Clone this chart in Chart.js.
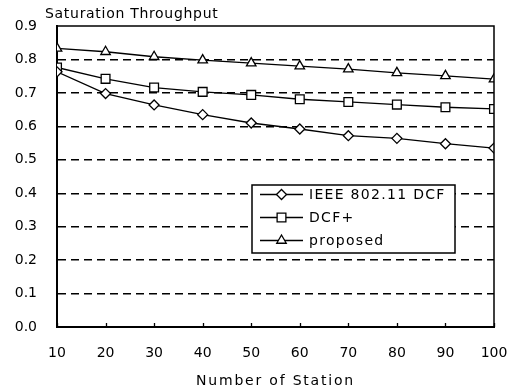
<!DOCTYPE html>
<html>
<head>
<meta charset="utf-8">
<script src="https://cdn.jsdelivr.net/npm/chart.js@4.4.1/dist/chart.umd.min.js"></script>
<style>
  html, body { margin: 0; padding: 0; background: #fff; }
  #wrap { width: 515px; height: 391px; }
</style>
</head>
<body>
<div id="wrap"><canvas id="chart" width="515" height="391"></canvas></div>
<script>
const stations = [10, 20, 30, 40, 50, 60, 70, 80, 90, 100];
const ieeeDcf = [0.763, 0.698, 0.664, 0.635, 0.610, 0.592, 0.572, 0.564, 0.548, 0.535];
const dcfPlus = [0.776, 0.742, 0.716, 0.703, 0.694, 0.681, 0.673, 0.665, 0.657, 0.652];
const proposed = [0.833, 0.823, 0.808, 0.798, 0.789, 0.780, 0.771, 0.760, 0.751, 0.741];
const seriesNames = ["IEEE 802.11 DCF", "DCF+", "proposed"];
const yTitle = "Saturation Throughput";
const xTitle = "Number of Station";

const FONT = "'DejaVu Sans', sans-serif";

function toPoints(values) {
  return values.map((v, i) => ({ x: stations[i], y: v }));
}

function makeSet(label, values, style, radius) {
  return {
    label: label,
    data: toPoints(values),
    borderColor: "#000",
    borderWidth: 1.3,
    backgroundColor: "#fff",
    pointStyle: style,
    pointRadius: radius,
    pointBorderColor: "#000",
    pointBackgroundColor: "#fff",
    pointBorderWidth: 1.3,
    tension: 0,
    fill: false,
  };
}

// same shapes as Chart.js point styles
function drawMarker(ctx, style, x, y, r) {
  ctx.beginPath();
  if (style === "rect") {
    const s = Math.SQRT1_2 * r;
    ctx.rect(x - s, y - s, 2 * s, 2 * s);
  } else if (style === "rectRot") {
    ctx.moveTo(x - r, y);
    ctx.lineTo(x, y - r);
    ctx.lineTo(x + r, y);
    ctx.lineTo(x, y + r);
    ctx.closePath();
  } else {
    const a = -Math.PI / 2;
    for (let k = 0; k < 3; k++) {
      const t = a + k * 2 * Math.PI / 3;
      const px = x + Math.cos(t) * r, py = y + Math.sin(t) * r;
      k === 0 ? ctx.moveTo(px, py) : ctx.lineTo(px, py);
    }
    ctx.closePath();
  }
  ctx.fillStyle = "#fff";
  ctx.fill();
  ctx.stroke();
}

const framePlugin = {
  id: "frame",
  afterDraw(chart) {
    const ctx = chart.ctx;
    const a = chart.chartArea;
    const xs = chart.scales.x;
    ctx.save();
    ctx.strokeStyle = "#000";

    // top and right border
    ctx.lineWidth = 1.5;
    ctx.beginPath();
    ctx.moveTo(a.left, a.top);
    ctx.lineTo(a.right, a.top);
    ctx.lineTo(a.right, a.bottom);
    ctx.stroke();

    // inward tick marks on x axis
    ctx.lineWidth = 1.3;
    ctx.beginPath();
    stations.forEach(s => {
      const px = Math.round(xs.getPixelForValue(s)) + 0.5;
      ctx.moveTo(px, a.bottom);
      ctx.lineTo(px, a.bottom - 4);
    });
    ctx.stroke();

    // titles
    ctx.fillStyle = "#000";
    ctx.font = "14px " + FONT;
    ctx.letterSpacing = "0.7px";
    ctx.textBaseline = "alphabetic";
    ctx.textAlign = "left";
    ctx.fillText(yTitle, 45, 18);
    ctx.textAlign = "center";
    ctx.letterSpacing = "1.8px";
    ctx.fillText(xTitle, (a.left + a.right) / 2, 385);

    // legend
    const lx = 252, ly = 185, lw = 203, lh = 68;
    ctx.lineWidth = 1.5;
    ctx.fillStyle = "#fff";
    ctx.fillRect(lx, ly, lw, lh);
    ctx.strokeRect(lx, ly, lw, lh);
    chart.data.datasets.forEach((ds, i) => {
      const cy = 194.5 + i * 23;
      ctx.lineWidth = 1.3;
      ctx.beginPath();
      ctx.moveTo(260, cy);
      ctx.lineTo(303, cy);
      ctx.stroke();
      drawMarker(ctx, ds.pointStyle, 281.5, cy, ds.pointRadius);
      ctx.fillStyle = "#000";
      ctx.textAlign = "left";
      ctx.textBaseline = "middle";
      ctx.letterSpacing = "1.3px";
      ctx.fillText(ds.label, 309, cy + 1);
    });
    ctx.restore();
  }
};

new Chart(document.getElementById("chart"), {
  type: "line",
  data: {
    datasets: [
      makeSet(seriesNames[0], ieeeDcf, "rectRot", 5),
      makeSet(seriesNames[1], dcfPlus, "rect", 6.2),
      makeSet(seriesNames[2], proposed, "triangle", 5.5),
    ],
  },
  options: {
    responsive: false,
    animation: false,
    layout: { padding: { top: 26, right: 21, left: 0, bottom: 0 } },
    plugins: {
      legend: { display: false },
      title: { display: false },
      tooltip: { enabled: false },
    },
    scales: {
      x: {
        type: "linear",
        min: 10,
        max: 100,
        afterFit: s => {
          s.height = 64;
          s.paddingLeft = 0;
          s.paddingRight = 0;
        },
        ticks: {
          stepSize: 10,
          padding: 18,
          maxRotation: 0,
          color: "#000",
          font: { family: FONT, size: 14 },
        },
        grid: { display: false, drawTicks: false },
        border: { display: true, color: "#000", width: 2 },
      },
      y: {
        min: 0,
        max: 0.9,
        afterFit: s => {
          s.width = 57;
          s.paddingTop = 0;
          s.paddingBottom = 0;
        },
        ticks: {
          stepSize: 0.1,
          padding: 20,
          color: "#000",
          font: { family: FONT, size: 14 },
          callback: v => v.toFixed(1),
        },
        grid: {
          drawTicks: false,
          color: c => (c.tick && (c.tick.value <= 0.001 || c.tick.value >= 0.899)) ? "rgba(0,0,0,0)" : "#000",
          lineWidth: 1.4,
        },
        border: { display: true, color: "#000", width: 2, dash: [8, 5] },
      },
    },
  },
  plugins: [framePlugin],
});
</script>
</body>
</html>
